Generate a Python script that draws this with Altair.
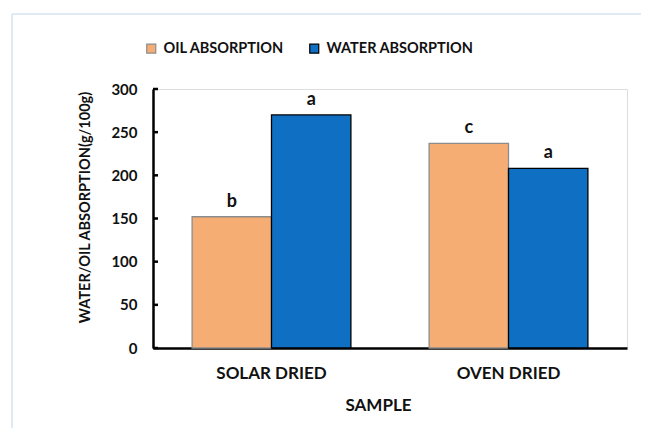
import altair as alt
import pandas as pd

samples = ["SOLAR DRIED", "OVEN DRIED"]
series = ["OIL ABSORPTION", "WATER ABSORPTION"]
oil = [152, 237]
water = [270, 208]
oil_letters = ["b", "c"]
water_letters = ["a", "a"]
y_ticks = [0, 50, 100, 150, 200, 250, 300]

rows = []
for i, s in enumerate(samples):
    rows.append({"sample": s, "series": series[0], "value": oil[i], "letter": oil_letters[i]})
    rows.append({"sample": s, "series": series[1], "value": water[i], "letter": water_letters[i]})
df = pd.DataFrame(rows)

FONT = "Lato"
fill_scale = alt.Scale(domain=series, range=["#F5AD74", "#0F6FC3"])
stroke_scale = alt.Scale(domain=series, range=["#8C8C8C", "#000000"])

x_enc = alt.X(
    "sample:N", sort=samples,
    scale=alt.Scale(paddingInner=0.33, paddingOuter=0.165),
    axis=alt.Axis(
        title="SAMPLE", labelAngle=0, ticks=False, domainColor="#000000", domainWidth=2.5,
        labelFont=FONT, labelFontWeight="bold", labelFontSize=17, labelColor="#111111",
        labelPadding=17, labelBaseline="top",
        titleFont=FONT, titleFontWeight="bold", titleFontSize=17, titleColor="#111111",
        titleX=225, titleY=49, titleBaseline="top",
    ),
)
y_scale = alt.Scale(domain=[0, 300], nice=False)
y_enc = alt.Y(
    "value:Q", scale=y_scale,
    axis=alt.Axis(
        title="WATER/OIL ABSORPTION(g/100g)", values=y_ticks, grid=False, ticks=False,
        domainColor="#000000", domainWidth=2.5,
        labelFont=FONT, labelFontWeight="bold", labelFontSize=15, labelColor="#111111",
        labelPadding=16,
        titleFont=FONT, titleFontWeight="bold", titleFontSize=14.5, titleColor="#111111",
        titleX=-68, titleY=118, titleBaseline="middle", titleAngle=-90,
    ),
)

base = alt.Chart(df)

bars = base.mark_bar(strokeWidth=1.3).encode(
    x=x_enc,
    xOffset=alt.XOffset("series:N", sort=series, scale=alt.Scale(paddingInner=0, paddingOuter=0)),
    y=y_enc,
    fill=alt.Fill("series:N", scale=fill_scale, sort=series,
                  legend=alt.Legend(
                      title=None, orient="none", direction="horizontal",
                      legendX=-9, legendY=-48,
                      symbolType="square", symbolSize=81, symbolStrokeWidth=1.2,
                      labelFont=FONT, labelFontWeight="bold", labelFontSize=14.5,
                      labelColor="#111111", labelOffset=5, columnPadding=22,
                      labelLimit=300,
                  )),
    stroke=alt.Stroke("series:N", scale=stroke_scale, sort=series, legend=None),
)

letters = base.mark_text(font=FONT, fontWeight="bold", fontSize=18, baseline="bottom",
                         dy=-6, color="#111111").encode(
    x=alt.X("sample:N", sort=samples),
    xOffset=alt.XOffset("series:N", sort=series),
    y=alt.Y("value:Q"),
    text="letter:N",
)

tick_df = pd.DataFrame({"v": y_ticks})
ticks = alt.Chart(tick_df).mark_rule(color="#000000", strokeWidth=2.5).encode(
    y=alt.Y("v:Q", scale=y_scale),
    x=alt.value(0), x2=alt.value(5),
)

frame_df = pd.DataFrame({"k": [0]})
frame_top = alt.Chart(frame_df).mark_rule(color="#D6E3F1", strokeWidth=1.5).encode(
    x=alt.value(-141), x2=alt.value(500), y=alt.value(-75)
)
frame_left = alt.Chart(frame_df).mark_rule(color="#D6E3F1", strokeWidth=1.5).encode(
    x=alt.value(-141), y=alt.value(-75), y2=alt.value(345)
)

chart = alt.layer(frame_top, frame_left, bars, letters, ticks).properties(
    width=474, height=259,
    autosize=alt.AutoSizeParams(type="none"),
    padding={"left": 145, "top": 81, "right": 14, "bottom": 80},
).configure_view(stroke=None).configure(background="#ffffff")

chart.save("out.html", embed_options={"renderer": "svg", "actions": False})
